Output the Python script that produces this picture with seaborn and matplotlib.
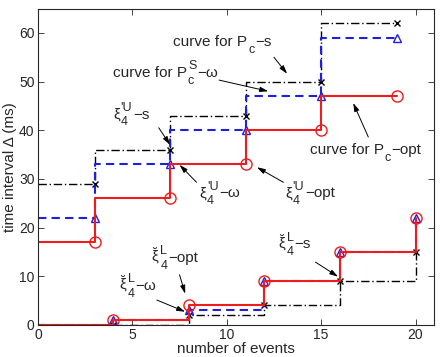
import matplotlib
matplotlib.use("Agg")
import matplotlib.pyplot as plt
import seaborn as sns

# upper curves (steps-pre, markers at end of each level)
up_x = [0, 3, 7, 11, 15, 19]
up_opt = [17, 17, 26, 33, 40, 47]
up_w = [22, 22, 33, 40, 47, 59]
up_s = [29, 29, 36, 43, 50, 62]

# lower curves (steps-post, markers at start of each level)
lo_x = [0, 4, 8, 12, 16, 20]
lo_opt = [0, 1, 4, 9, 15, 22]
lo_w = [0, 1, 3, 9, 15, 22]
lo_s = [0, 0, 2, 4, 9, 15]

sns.set_style("ticks", {"xtick.direction": "in", "ytick.direction": "in"})
plt.rcParams["font.family"] = ["Liberation Sans", "DejaVu Sans"]
plt.rcParams["mathtext.fontset"] = "custom"
plt.rcParams["mathtext.rm"] = "Liberation Sans"
plt.rcParams["mathtext.it"] = "Liberation Sans"
plt.rcParams["mathtext.default"] = "regular"

fig = plt.figure(figsize=(4.41, 3.57), dpi=100)
ax = fig.add_axes([0.086, 0.09, 0.899, 0.886])

styles = [
    (up_s, lo_s, "k", (0, (6, 2, 1, 2)), "x", 1.0, 5, "k"),
    (up_w, lo_w, "#1f1fe0", (0, (4, 2.5)), "^", 1.5, 6, "#1f1fe0"),
    (up_opt, lo_opt, "#ee1c1c", "-", "o", 1.5, 8, "#ee1c1c"),
]
for uy, ly, c, ls, m, lw, ms, mc in styles:
    sns.lineplot(x=up_x, y=uy, ax=ax, color=c, linestyle=ls, linewidth=lw,
                 drawstyle="steps-pre", marker=m, markevery=slice(1, None),
                 markersize=ms, markerfacecolor="none", markeredgecolor=mc,
                 markeredgewidth=1.0, sort=False, estimator=None)
    sns.lineplot(x=lo_x, y=ly, ax=ax, color=c, linestyle=ls, linewidth=lw,
                 drawstyle="steps-post", marker=m, markevery=slice(1, None),
                 markersize=ms, markerfacecolor="none", markeredgecolor=mc,
                 markeredgewidth=1.0, sort=False, estimator=None)

ax.set_xlim(0, 21)
ax.set_ylim(0, 65)
ax.set_xticks([0, 5, 10, 15, 20])
ax.set_yticks([0, 10, 20, 30, 40, 50, 60])
ax.tick_params(top=True, right=True, labelsize=10, length=4, width=0.6, pad=2.5)
for sp in ax.spines.values():
    sp.set_linewidth(0.8)
ax.set_xlabel("number of events", fontsize=11, labelpad=0)
ax.set_ylabel("time interval \u0394 (ms)", fontsize=11, labelpad=1)

FS = 11    # main annotation text
SS = 9     # sub/superscripts


def rich(x, y, head, sup, sub, tail):
    # MATLAB-like text with big sub/superscripts, all anchored on baseline y
    t0 = ax.text(x, y, head, fontsize=FS, ha="left", va="baseline")
    parts = []
    if sup:
        parts.append(ax.annotate(sup, xy=(1, y), xycoords=(t0, "data"),
                                 xytext=(0.4, 5.5), textcoords="offset points",
                                 fontsize=SS, ha="left", va="baseline"))
    if sub:
        parts.append(ax.annotate(sub, xy=(1, y), xycoords=(t0, "data"),
                                 xytext=(0.4, -5), textcoords="offset points",
                                 fontsize=SS, ha="left", va="baseline"))
    ax.annotate(tail, xy=(1, y), xycoords=(parts[0], "data"),
                xytext=(0.5, 0), textcoords="offset points",
                fontsize=FS, ha="left", va="baseline")


xi_b = r"$\breve{\xi}$"
rich(7.18, 57.3, "curve for P", None, "c", "\u2212s")
rich(4.0, 51.0, "curve for P", "S", "c", "\u2212\u03c9")
rich(3.98, 42.4, "\u03be", "'U", "4", "\u2212s")
rich(8.55, 26.2, "\u03be", "'U", "4", "\u2212\u03c9")
rich(13.1, 26.2, "\u03be", "'U", "4", "\u2212opt")
rich(14.4, 35.1, "curve for P", None, "c", "\u2212opt")
rich(12.7, 15.7, xi_b, "L", "4", "\u2212s")
rich(6.0, 13.0, xi_b, "L", "4", "\u2212opt")
rich(4.3, 7.2, xi_b, "L", "4", "\u2212\u03c9")

arrows = [
    ((12.5, 55.0), (13.2, 51.6)),
    ((9.6, 50.3), (12.2, 48.0)),
    ((6.4, 40.5), (7.0, 37.0)),
    ((8.4, 29.3), (7.5, 32.9)),
    ((13.0, 29.3), (11.6, 32.4)),
    ((17.5, 38.6), (16.7, 45.6)),
    ((14.7, 12.9), (15.9, 9.9)),
    ((7.5, 10.3), (7.8, 6.4)),
    ((6.3, 5.1), (7.8, 2.7)),
]
for start, end in arrows:
    ax.annotate("", xy=end, xytext=start,
                arrowprops=dict(arrowstyle="-|>,head_length=0.5,head_width=0.15",
                                color="k", lw=0.7, shrinkA=0, shrinkB=0))

fig.savefig("out.png", dpi=100)
